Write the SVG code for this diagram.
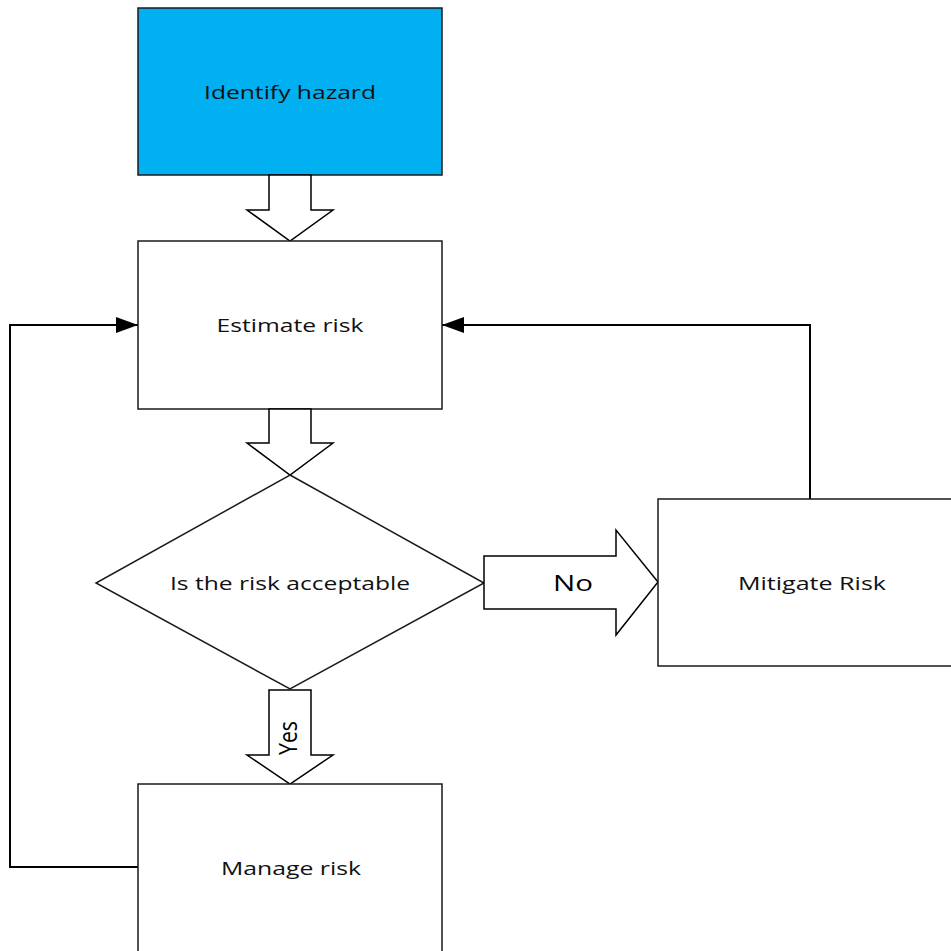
<svg xmlns="http://www.w3.org/2000/svg" width="951" height="951" viewBox="0 0 951 951">
  <style>
    .box { fill: #ffffff; stroke: #1a1a1a; stroke-width: 1.5; }
    .start { fill: #00b0f0; stroke: #1a1a1a; stroke-width: 1.5; }
    .block { fill: #ffffff; stroke: #000000; stroke-width: 1.5; stroke-linejoin: miter; }
    .link { fill: none; stroke: #000000; stroke-width: 2; }
    .label { font-family: "Open Sans", "Noto Sans", "Liberation Sans", sans-serif; font-size: 19px; fill: #111111; text-anchor: middle; }
    .big { font-family: "Open Sans", "Noto Sans", "Liberation Sans", sans-serif; font-size: 22px; fill: #000000; text-anchor: middle; }
    .tall { font-size: 25px; }
  </style>
  <defs>
    <marker id="tri" viewBox="0 0 22 16" refX="22" refY="8" markerWidth="22" markerHeight="16" markerUnits="userSpaceOnUse" orient="auto">
      <path d="M0,0 L22,8 L0,16 Z" fill="#000000"/>
    </marker>
  </defs>
  <rect width="951" height="951" fill="#ffffff"/>

  <!-- feedback connectors -->
  <g id="connectors">
    <polyline class="link" points="138,867 10,867 10,325 138,325" marker-end="url(#tri)"/>
    <polyline class="link" points="810,499 810,325 442,325" marker-end="url(#tri)"/>
  </g>

  <g id="identify-hazard">
    <rect class="start" x="138" y="8" width="304" height="167"/>
    <text class="label" x="290" y="99" textLength="172" lengthAdjust="spacingAndGlyphs">Identify hazard</text>
  </g>

  <g id="arrow-identify-estimate">
    <polygon class="block" points="269,175 311,175 311,210 333,210 290,241 247,210 269,210"/>
  </g>

  <g id="estimate-risk">
    <rect class="box" x="138" y="241" width="304" height="168"/>
    <text class="label" x="290" y="332" textLength="147" lengthAdjust="spacingAndGlyphs">Estimate risk</text>
  </g>

  <g id="arrow-estimate-decision">
    <polygon class="block" points="269,409 311,409 311,443 333,443 290,475 247,443 269,443"/>
  </g>

  <g id="decision">
    <polygon class="box" points="290,475 484,583 290,689 96,583"/>
    <text class="label" x="290" y="590" textLength="240" lengthAdjust="spacingAndGlyphs">Is the risk acceptable</text>
  </g>

  <g id="arrow-no">
    <polygon class="block" points="484,556 616,556 616,530 658,582 616,635 616,609 484,609"/>
    <text class="big" x="573" y="591" textLength="40" lengthAdjust="spacingAndGlyphs">No</text>
  </g>

  <g id="arrow-yes">
    <polygon class="block" points="269,690 311,690 311,755 333,755 290,784 247,755 269,755"/>
    <text class="big tall" transform="translate(297,738) rotate(-90)" x="0" y="0" textLength="34" lengthAdjust="spacingAndGlyphs">Yes</text>
  </g>

  <g id="mitigate-risk">
    <rect class="box" x="658" y="499" width="304" height="167"/>
    <text class="label" x="812" y="590" textLength="148" lengthAdjust="spacingAndGlyphs">Mitigate Risk</text>
  </g>

  <g id="manage-risk">
    <rect class="box" x="138" y="784" width="304" height="180"/>
    <text class="label" x="291" y="875" textLength="140" lengthAdjust="spacingAndGlyphs">Manage risk</text>
  </g>
</svg>
